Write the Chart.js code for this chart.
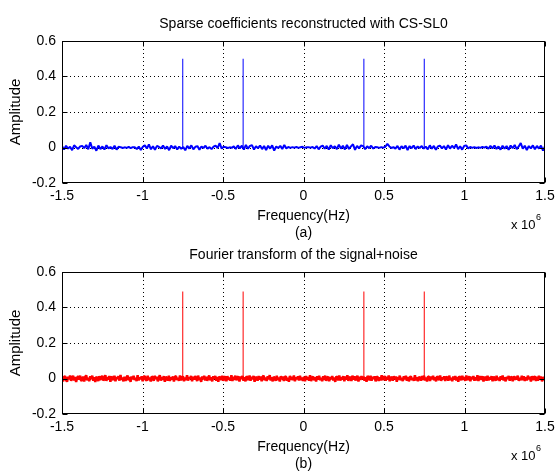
<!DOCTYPE html>
<html>
<head>
<meta charset="utf-8">
<title>CS-SL0 spectrum</title>
<script src="https://cdn.jsdelivr.net/npm/chart.js@4"></script>
<style>
    html, body { margin: 0; padding: 0; background: #fff; overflow: hidden; }
    .panel { position: absolute; left: 0; width: 555px; }
    #panel-a { top: 0; height: 245px; }
    #panel-b { top: 236px; height: 235px; }
</style>
</head>
<body>
<div class="panel" id="panel-b"><canvas id="chart-b" width="555" height="235"></canvas></div>
<div class="panel" id="panel-a"><canvas id="chart-a" width="555" height="245"></canvas></div>
<script>
// 频率范围 (Hz) 与刻度
const freqMin = -1.5e6;
const freqMax = 1.5e6;
const xTicks = [-1.5e6, -1e6, -0.5e6, 0, 0.5e6, 1e6, 1.5e6];
const yTicks = [-0.2, 0, 0.2, 0.4, 0.6];

// 四个稀疏分量 (频率, 幅值)
const spikeFreqs = [-750000, -375000, 375000, 750000];
const spikeAmpsA = [0.5, 0.5, 0.5, 0.5];
const spikeAmpsB = [0.49, 0.49, 0.49, 0.49];

// (a) CS-SL0 重建系数的噪声底
const noiseA = [
    0.008,-0.012,0.010,-0.006,0.004,-0.015,0.012,0.002,-0.008,0.006,0.009,-0.004,0.014,-0.010,0.030,-0.007,0.005,-0.018,0.011,-0.009,
    0.006,-0.011,0.013,-0.005,0.003,-0.008,0.010,-0.012,0.004,0.002,-0.003,0.001,-0.002,0.003,-0.004,0.002,0.001,-0.009,0.005,-0.014,
    0.004,0.012,-0.006,0.018,-0.010,0.007,-0.013,0.009,0.003,-0.005,0.011,-0.008,0.006,-0.015,0.010,-0.004,0.008,-0.011,0.005,-0.007,
    0.003,-0.016,0.009,-0.006,0.012,-0.010,0.004,0.008,-0.013,0.006,-0.003,0.010,-0.007,0.002,-0.009,0.005,0.011,-0.004,0.025,-0.006,
    0.004,0.002,-0.003,0.001,-0.002,0.006,-0.008,0.012,-0.005,0.010,-0.012,0.015,-0.007,0.009,0.013,-0.011,0.007,-0.004,0.011,-0.009,
    0.008,-0.014,0.010,-0.006,0.012,-0.017,0.006,-0.003,0.009,-0.008,0.014,-0.005,0.003,-0.002,0.002,-0.001,0.003,-0.002,0.001,0.004,
    -0.002,0.001,0.002,-0.001,0.003,-0.006,0.008,-0.010,0.005,0.011,-0.007,0.009,-0.012,0.013,-0.004,0.007,-0.009,0.016,-0.006,0.010,
    -0.011,0.014,-0.008,0.006,0.018,-0.013,0.009,-0.005,0.012,0.008,-0.010,0.007,-0.004,0.010,-0.006,0.003,0.001,-0.002,0.002,-0.001,
    0.004,0.020,0.006,-0.003,0.002,-0.006,0.009,-0.012,0.007,-0.005,0.010,-0.014,0.008,-0.004,0.011,-0.009,0.006,-0.003,0.008,-0.006,
    0.005,-0.010,0.012,-0.007,0.009,-0.013,0.006,0.011,-0.005,0.008,-0.011,0.013,-0.006,0.010,-0.004,0.017,-0.009,0.007,-0.012,0.009,
    0.012,-0.005,0.003,-0.002,0.002,-0.003,0.001,-0.002,0.003,-0.001,0.004,-0.007,0.009,-0.005,0.011,-0.008,0.006,-0.012,0.010,-0.006,
    0.008,-0.013,0.011,-0.004,0.014,-0.009,0.006,0.025,-0.007,0.010,-0.014,0.008,-0.005,0.012,-0.010,0.009,-0.006,0.011,-0.018,0.007
];

// (b) 信号+噪声的傅里叶变换噪声底
const noiseB = [
    0.012,-0.016,0.006,0.014,-0.009,-0.018,0.010,-0.004,0.017,-0.013,0.003,0.015,-0.011,0.008,-0.019,0.005,0.013,-0.007,0.016,-0.014,
    -0.005,0.011,-0.017,0.009,0.018,-0.010,0.004,-0.015,0.012,-0.003,0.016,-0.012,0.007,-0.020,0.010,0.002,-0.014,0.013,-0.008,0.006,
    0.015,-0.011,-0.004,0.019,-0.013,0.008,-0.006,0.014,-0.018,0.011,0.003,-0.009,0.016,-0.015,0.007,-0.002,0.013,-0.012,0.020,-0.007,
    0.005,-0.016,0.010,-0.013,0.004,0.017,-0.010,0.008,-0.019,0.012,-0.005,0.015,-0.008,0.003,-0.014,0.018,-0.011,0.006,-0.004,0.012,
    -0.015,0.009,0.014,-0.006,-0.012,0.016,-0.009,0.005,-0.017,0.011,0.007,-0.013,0.015,-0.003,0.010,-0.016,0.004,0.019,-0.012,0.008,
    -0.007,0.013,-0.018,0.010,0.002,-0.011,0.016,-0.014,0.006,-0.005,0.012,-0.017,0.009,0.014,-0.008,0.004,-0.013,0.017,-0.010,0.007,
    0.011,-0.015,0.005,-0.009,0.018,-0.012,0.008,-0.003,0.014,-0.016,0.010,-0.006,0.013,0.003,-0.014,0.016,-0.008,0.006,-0.019,0.012,
    -0.004,0.015,-0.011,0.009,-0.013,0.005,0.017,-0.010,0.007,-0.016,0.012,-0.002,0.014,-0.012,0.008,-0.018,0.011,0.004,-0.009,0.015,
    -0.013,0.007,0.010,-0.015,0.013,-0.006,0.004,-0.011,0.018,-0.014,0.009,-0.007,0.016,-0.010,0.005,0.012,-0.017,0.011,-0.003,0.014,
    -0.012,0.006,-0.016,0.013,0.002,-0.009,0.017,-0.013,0.010,-0.005,0.015,-0.018,0.008,0.004,-0.012,0.014,-0.007,0.011,-0.015,0.009,
    0.016,-0.010,0.005,-0.014,0.012,-0.004,0.019,-0.011,0.007,-0.016,0.010,0.003,-0.013,0.015,-0.008,0.006,-0.017,0.013,-0.005,0.011,
    -0.014,0.008,0.013,-0.012,0.004,-0.018,0.015,-0.007,0.010,-0.010,0.017,-0.015,0.006,-0.003,0.012,-0.011,0.016,-0.009,0.005,-0.013,
    0.010,-0.016,0.014,-0.005,0.008,-0.012,0.018,-0.014,0.003,0.011,-0.010,0.007,-0.017,0.013,-0.006,0.015,-0.009,0.004,-0.015,0.012,
    -0.008,0.016,-0.013,0.006,0.010,-0.016,0.009,-0.004,0.014,-0.011,0.005,-0.019,0.012,0.007,-0.010,0.017,-0.012,0.008,-0.005,0.013,
    -0.015,0.011,-0.007,0.018,-0.013,0.004,0.009,-0.014,0.016,-0.006,0.012,-0.011,0.003,0.015,-0.017,0.010,-0.008,0.013,-0.004,0.011,
    -0.012,0.007,-0.018,0.014,0.005,-0.010,0.016,-0.013,0.009,-0.003,0.012,-0.016,0.008,0.010,-0.014,0.006,-0.011,0.019,-0.009,0.004,
    0.014,-0.013,0.010,-0.006,0.017,-0.015,0.005,0.008,-0.012,0.013,-0.004,0.011,-0.018,0.009,-0.007,0.016,-0.010,0.003,-0.014,0.012,
    -0.005,0.015,-0.012,0.009,-0.016,0.007,0.012,-0.009,0.004,-0.013,0.018,-0.011,0.006,-0.015,0.010,0.002,-0.012,0.014,-0.008,0.016,
    -0.011,0.005,-0.017,0.012,0.008,-0.014,0.011,-0.005,0.015,-0.010,0.007,-0.016,0.013,0.003,-0.009,0.017,-0.013,0.006,-0.004,0.012,
    -0.014,0.010,0.006,-0.012,0.016,-0.008,0.004,-0.015,0.011,-0.006,0.014,-0.011,0.009,-0.018,0.013,0.005,-0.010,0.015,-0.007,0.008,
    -0.013,0.017,-0.009,0.003,0.012,-0.016,0.010,-0.004,0.014,-0.012,0.006,-0.010,0.018,-0.014,0.007,0.011,-0.008,0.013,-0.017,0.009,
    0.004,-0.012,0.015,-0.010,0.008,-0.006,0.013,-0.015,0.011,0.002,-0.013,0.016,-0.009,0.005,-0.014,0.012,-0.007,0.017,-0.011,0.006,
    -0.016,0.009,-0.003,0.014,-0.012,0.010,0.005,-0.015,0.013,-0.008,0.011,-0.006,0.016,-0.013,0.004,-0.010,0.015,-0.009,0.012,-0.014,
    0.007,-0.011,0.016,-0.005,0.010,-0.017,0.013,-0.008,0.006,0.012,-0.014,0.009,-0.012,0.015,-0.006,0.011,-0.016,0.008,-0.010,0.013
];

const FONT = '"Liberation Sans", Arial, sans-serif';

// 噪声点: 频率轴等间隔
function noisePoints(values) {
    const step = (freqMax - freqMin) / (values.length - 1);
    return values.map((v, i) => ({ x: freqMin + i * step, y: v }));
}

// 竖线谱峰, 用 null 断开
function spikePoints(freqs, amps) {
    const pts = [];
    freqs.forEach((f, i) => {
        pts.push({ x: f, y: 0 }, { x: f, y: amps[i] }, { x: f, y: null });
    });
    return pts;
}

// MATLAB 风格: 虚线网格, 外框, 内向刻度和文字
function matlabAxes(title, label) {
    return {
        id: 'matlabAxes',
        beforeDatasetsDraw(chart) {
            const ctx = chart.ctx;
            const a = chart.chartArea;
            const xs = chart.scales.x, ys = chart.scales.y;
            ctx.save();
            ctx.strokeStyle = '#000';
            ctx.lineWidth = 1;
            ctx.setLineDash([1, 3]);
            xTicks.slice(1, -1).forEach(t => {
                const px = Math.round(xs.getPixelForValue(t)) + 0.5;
                ctx.beginPath(); ctx.moveTo(px, a.top); ctx.lineTo(px, a.bottom); ctx.stroke();
            });
            yTicks.slice(1, -1).forEach(t => {
                const py = Math.round(ys.getPixelForValue(t)) + 0.5;
                ctx.beginPath(); ctx.moveTo(a.left, py); ctx.lineTo(a.right, py); ctx.stroke();
            });
            ctx.restore();
        },
        afterDatasetsDraw(chart) {
            const ctx = chart.ctx;
            const a = chart.chartArea;
            const xs = chart.scales.x, ys = chart.scales.y;
            const L = Math.round(a.left) + 0.5, R = Math.round(a.right) - 0.5;
            const T = Math.round(a.top) + 0.5, B = Math.round(a.bottom) - 0.5;
            ctx.save();
            ctx.strokeStyle = '#000';
            ctx.lineWidth = 1;
            ctx.strokeRect(L, T, R - L, B - T);
            ctx.beginPath();
            xTicks.forEach(t => {
                const px = Math.round(xs.getPixelForValue(t)) + 0.5;
                ctx.moveTo(px, B); ctx.lineTo(px, B - 5);
                ctx.moveTo(px, T); ctx.lineTo(px, T + 5);
            });
            yTicks.forEach(t => {
                const py = Math.round(ys.getPixelForValue(t)) + 0.5;
                ctx.moveTo(L, py); ctx.lineTo(L + 5, py);
                ctx.moveTo(R, py); ctx.lineTo(R - 5, py);
            });
            ctx.stroke();

            const cx = (a.left + a.right) / 2;
            ctx.fillStyle = '#000';
            ctx.textAlign = 'center';
            ctx.textBaseline = 'middle';
            ctx.font = '14px ' + FONT;
            ctx.fillText(title, cx, a.top - 17);
            ctx.fillText('Frequency(Hz)', cx, a.bottom + 33);
            ctx.fillText(label, cx, a.bottom + 50);

            // x 10^6
            ctx.font = '13px ' + FONT;
            ctx.textAlign = 'left';
            ctx.fillText('x 10', 511, a.bottom + 42);
            ctx.font = '9px ' + FONT;
            ctx.fillText('6', 536, a.bottom + 35);

            // 纵轴标题
            ctx.font = '15px ' + FONT;
            ctx.textAlign = 'center';
            ctx.translate(16, (a.top + a.bottom) / 2);
            ctx.rotate(-Math.PI / 2);
            ctx.fillText('Amplitude', 0, 0);
            ctx.restore();
        }
    };
}

function makeChart(canvasId, noise, amps, color, noiseWidth, title, label, topPad, xHeight) {
    return new Chart(document.getElementById(canvasId), {
        type: 'line',
        data: {
            datasets: [{
                data: noisePoints(noise),
                borderColor: color,
                borderWidth: noiseWidth,
                borderJoinStyle: 'bevel',
                pointRadius: 0,
                tension: 0
            }, {
                data: spikePoints(spikeFreqs, amps),
                borderColor: color,
                borderWidth: 1,
                pointRadius: 0,
                tension: 0,
                spanGaps: false
            }]
        },
        options: {
            responsive: false,
            animation: false,
            devicePixelRatio: 1,
            layout: { padding: { top: topPad, right: 10, left: 0, bottom: 0 } },
            plugins: { legend: { display: false }, tooltip: { enabled: false } },
            scales: {
                x: {
                    type: 'linear',
                    min: freqMin,
                    max: freqMax,
                    afterBuildTicks: s => { s.ticks = xTicks.map(v => ({ value: v })); },
                    afterFit: s => { s.height = xHeight; s.paddingLeft = 0; s.paddingRight = 0; },
                    grid: { display: false, drawTicks: false },
                    border: { display: false },
                    ticks: {
                        color: '#000',
                        padding: 5,
                        maxRotation: 0,
                        font: { family: FONT, size: 14 },
                        callback: v => String(v / 1e6)
                    }
                },
                y: {
                    min: -0.2,
                    max: 0.6,
                    afterBuildTicks: s => { s.ticks = yTicks.map(v => ({ value: v })); },
                    afterFit: s => { s.width = 62; s.paddingTop = 0; s.paddingBottom = 0; },
                    grid: { display: false, drawTicks: false },
                    border: { display: false },
                    ticks: {
                        color: '#000',
                        padding: 6,
                        font: { family: FONT, size: 14 },
                        callback: v => String(Math.round(v * 10) / 10)
                    }
                }
            }
        },
        plugins: [matlabAxes(title, label)]
    });
}

document.addEventListener('DOMContentLoaded', function() {
    makeChart('chart-a', noiseA, spikeAmpsA, '#0000ff', 2,
        'Sparse coefficients reconstructed with CS-SL0', '(a)', 41, 62);
    makeChart('chart-b', noiseB, spikeAmpsB, '#ff0000', 2.5,
        'Fourier transform of the signal+noise', '(b)', 36, 57);
});
</script>
</body>
</html>
